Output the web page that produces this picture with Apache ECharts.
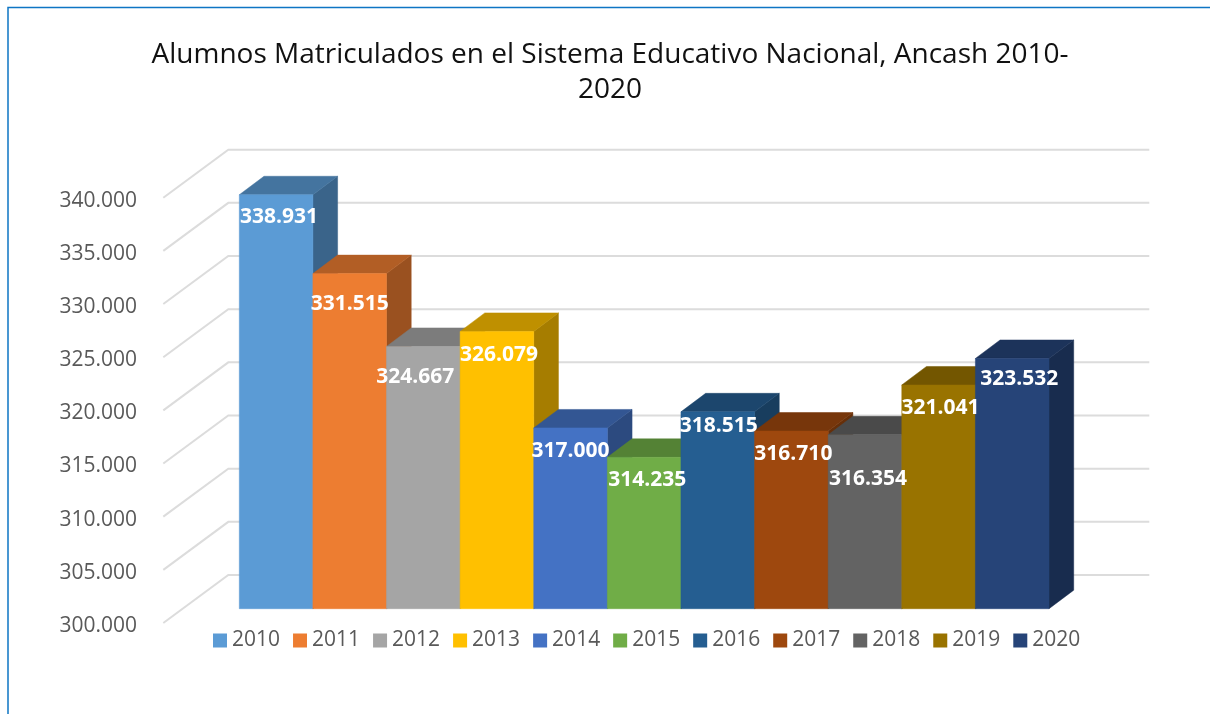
<!DOCTYPE html>
<html><head><meta charset="utf-8">
<script src="https://cdn.jsdelivr.net/npm/echarts@6/dist/echarts.min.js"></script>
<style>html,body{margin:0;padding:0;background:#fff}#c{width:1210px;height:714px}</style>
</head><body><div id="c"></div>
<script>
const years = ['2010','2011','2012','2013','2014','2015','2016','2017','2018','2019','2020'];
const matriculados = [338931,331515,324667,326079,317000,314235,318515,316710,316354,321041,323532];
const yTicks = [300000,305000,310000,315000,320000,325000,330000,335000,340000];
const chartTitle = 'Alumnos Matriculados en el Sistema Educativo Nacional, Ancash 2010-\n2020';

// styling
const frontColors = ['#5B9BD5','#ED7D31','#A5A5A5','#FFC000','#4472C4','#70AD47','#255E91','#9E480E','#636363','#997300','#264478'];
const topColors   = ['#44749F','#B25E25','#7C7C7C','#BF9000','#335693','#548235','#1C466D','#77360B','#4A4A4A','#735600','#1C335A'];
const sideColors  = ['#3A648A','#9A5120','#6B6B6B','#A67D00','#2C4A7F','#49712E','#183D5E','#672F09','#404040','#634B00','#182C4E'];
const labelNudgeX = [3,0,-8,2,0,3,1,2,3,2,7];
const labelNudgeY = [22,30,31,24,23,23,14,23,44,23,21];
const FONT = '"Open Sans", sans-serif';
const AXIS_DROP = 3;
const GRID_LEFT = 239.3, GRID_TOP = 197.7 + AXIS_DROP, GRID_W = 809.7, GRID_H = 425.3;
const DEPTH_X = 24.7, DEPTH_Y = 18.5, LIFT = 14.3 + AXIS_DROP;
const WALL_LEFT = GRID_LEFT - 76, WALL_BACK = GRID_LEFT - 11, WALL_RIGHT = 1149.3, WALL_RISE = 48;

const fmt = v => String(v).replace(/\B(?=(\d{3})+$)/g, '.');

function poly(points, fill) {
  return {type:'polygon', shape:{points}, style:{fill, stroke:fill, lineWidth:0.5}};
}

const wallSeries = {
  name:'wall', type:'custom', coordinateSystem:'cartesian2d', silent:true, clip:false, z:1,
  data: yTicks.map(t => [0, t]),
  renderItem(params, api) {
    const y = api.coord([0, api.value(1)])[1] - AXIS_DROP;
    return {type:'polyline', shape:{points:[[WALL_LEFT,y],[WALL_BACK,y-WALL_RISE],[WALL_RIGHT,y-WALL_RISE]]},
      style:{stroke:'#DCDCDC', lineWidth:2, fill:null}};
  }
};

const barSeries = years.map((yr, i) => ({
  name: yr, type:'custom', coordinateSystem:'cartesian2d', silent:true, clip:false, z:2,
  itemStyle:{color:frontColors[i]},
  data:[[i, matriculados[i]]],
  renderItem(params, api) {
    const idx = api.value(0), v = api.value(1);
    const w = api.size([1,0])[0];
    const c = api.coord([idx, v]);
    const b = api.coord([idx, yTicks[0]]);
    const x0 = c[0]-w/2, x1 = c[0]+w/2, yt = c[1]-LIFT, yb = b[1]-LIFT;
    return {type:'group', children:[
      poly([[x1,yt],[x1+DEPTH_X,yt-DEPTH_Y],[x1+DEPTH_X,yb-DEPTH_Y],[x1,yb]], sideColors[i]),
      poly([[x0,yt],[x0+DEPTH_X,yt-DEPTH_Y],[x1+DEPTH_X,yt-DEPTH_Y],[x1,yt]], topColors[i]),
      poly([[x0,yt],[x1,yt],[x1,yb],[x0,yb]], frontColors[i])
    ]};
  }
}));

const labelSeries = {
  name:'labels', type:'custom', coordinateSystem:'cartesian2d', silent:true, clip:false, z:5,
  data: matriculados.map((v,i)=>[i,v]),
  renderItem(params, api) {
    const i = api.value(0), v = api.value(1);
    const c = api.coord([i, v]);
    return {type:'text', style:{x:c[0]+labelNudgeX[i], y:c[1]-LIFT+labelNudgeY[i], text:fmt(v),
      fill:'#fff', font:'bold 21px '+FONT, textAlign:'center', textVerticalAlign:'middle'}};
  }
};

const chart = echarts.init(document.getElementById('c'), null, {renderer:'canvas'});
chart.setOption({
  animation:false,
  backgroundColor:'#fff',
  title:{text:chartTitle, left:605, top:33, textAlign:'center',
    textStyle:{fontFamily:FONT, fontSize:28, fontWeight:'normal', color:'#111', lineHeight:35}},
  legend:{data:years, left:213, top:630, icon:'rect', itemWidth:14, itemHeight:14, itemGap:13, padding:0,
    selectedMode:false, textStyle:{fontFamily:FONT, fontSize:21, color:'#595959', padding:[0,0,0,0]}},
  grid:{left:GRID_LEFT, top:GRID_TOP, width:GRID_W, height:GRID_H, containLabel:false},
  xAxis:{type:'category', data:years, show:false},
  yAxis:{type:'value', min:300000, max:340000, interval:5000, offset:94.3,
    axisLine:{show:false}, axisTick:{show:false}, splitLine:{show:false},
    axisLabel:{margin:8, fontFamily:FONT, fontSize:21, color:'#595959', formatter:fmt}},
  graphic:[
    {type:'polyline', silent:true, shape:{points:[[8,714],[8,7.5],[1210,7.5]]},
     style:{stroke:'#0E75C4', lineWidth:1.5, fill:null}}
  ],
  series:[wallSeries, ...barSeries, labelSeries]
});
</script></body></html>
